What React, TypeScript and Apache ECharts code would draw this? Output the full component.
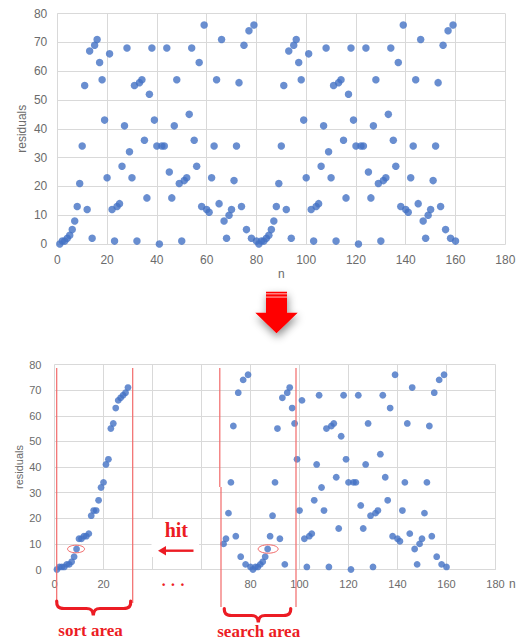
import React, { useEffect, useRef } from 'react';
import * as echarts from 'echarts';

// Residuals (n = 1 .. 160)
const topResiduals = [
  0, 1, 1, 2, 3, 5, 8, 13, 21, 34,
  55, 12, 67, 2, 69, 71, 63, 57, 43, 23,
  66, 12, 1, 13, 14, 27, 41, 68, 32, 23,
  55, 1, 56, 57, 36, 16, 52, 68, 43, 34,
  0, 34, 34, 68, 25, 16, 41, 57, 21, 1,
  22, 23, 45, 68, 36, 27, 63, 13, 76, 12,
  11, 23, 34, 57, 14, 71, 8, 2, 10, 12,
  22, 34, 56, 13, 69, 5, 74, 2, 76, 1,
  0, 1, 1, 2, 3, 5, 8, 13, 21, 34,
  55, 12, 67, 2, 69, 71, 63, 57, 43, 23,
  66, 12, 1, 13, 14, 27, 41, 68, 32, 23,
  55, 1, 56, 57, 36, 16, 52, 68, 43, 34,
  0, 34, 34, 68, 25, 16, 41, 57, 21, 1,
  22, 23, 45, 68, 36, 27, 63, 13, 76, 12,
  11, 23, 34, 57, 14, 71, 8, 2, 10, 12,
  22, 34, 56, 13, 69, 5, 74, 2, 76, 1,
];

// Lower chart: sorted values in the sort area (n = 1 .. 30)
const sortAreaResiduals = [
  0, 1, 1, 1, 2, 2, 3, 5, 8, 12,
  12, 13, 13, 14, 21, 23, 23, 27, 32, 34,
  41, 43, 55, 57, 63, 66, 67, 68, 69, 71,
];

// Lower chart: remaining values from n = 69 to 160
const restStartN = 69;
const restResiduals = [
  10, 12, 22, 34, 56, 13, 69, 5, 74, 2, 76, 1,
  0, 1, 1, 2, 3, 5, 8, 13, 21, 34,
  55, 12, 67, 2, 69, 71, 63, 57, 43, 23,
  66, 12, 1, 13, 14, 27, 41, 68, 32, 23,
  55, 1, 56, 57, 36, 16, 52, 68, 43, 34,
  0, 34, 34, 68, 25, 16, 41, 57, 21, 1,
  22, 23, 45, 68, 36, 27, 63, 13, 76, 12,
  11, 23, 34, 57, 14, 71, 8, 2, 10, 12,
  22, 34, 56, 13, 69, 5, 74, 2, 76, 1,
];

const hiddenBottomTicks = [40, 60];
const sortHit = [9, 8];
const searchHit = [87, 8];

const axisName = 'residuals';
const xName = 'n';
const hitLabel = 'hit';
const sortLabel = 'sort area';
const searchLabel = 'search area';
const gapLabel = '· · ·';

export default function App() {
  const ref = useRef<HTMLDivElement>(null);

  useEffect(() => {
    document.body.style.margin = '0';
    const chart = echarts.init(ref.current as HTMLDivElement, null, { renderer: 'svg' });
    const gridGrey = '#d9d9d9';
    const labelGrey = '#6b6b6b';
    const font = 'Liberation Sans';
    const blue = '#4472C4';
    const red = '#ec1c24';
    const lineRed = '#f26a6a';

    const makeX = (gridIndex: number, fontSize: number, extra: any) => ({
      gridIndex,
      type: 'value',
      min: 0,
      max: 180,
      interval: 20,
      axisLine: { show: true, lineStyle: { color: gridGrey } },
      axisTick: { show: false },
      splitLine: { show: true, lineStyle: { color: gridGrey, width: 1 } },
      axisLabel: { color: labelGrey, fontSize, fontFamily: font, margin: 10 },
      ...extra,
    });
    const makeY = (gridIndex: number, fontSize: number, gap: number, margin: number) => ({
      gridIndex,
      type: 'value',
      min: 0,
      max: 80,
      interval: 10,
      axisLine: { show: false },
      axisTick: { show: false },
      splitLine: { show: true, lineStyle: { color: gridGrey, width: 1 } },
      axisLabel: { color: labelGrey, fontSize, fontFamily: font, margin },
      name: axisName,
      nameLocation: 'middle',
      nameGap: gap,
      nameRotate: 90,
      nameMoveOverlap: false,
      nameTextStyle: { color: labelGrey, fontSize, fontFamily: font },
    });

    const option: any = {
      animation: false,
      backgroundColor: '#ffffff',
      grid: [
        { left: 57.3, top: 13.5, width: 448, height: 230.5, outerBoundsMode: 'none' },
        { left: 54.5, top: 364.5, width: 441, height: 205, outerBoundsMode: 'none' },
      ],
      xAxis: [
        makeX(0, 12, {
          name: xName,
          nameLocation: 'middle',
          nameGap: 24,
          nameMoveOverlap: false,
          nameTextStyle: { color: labelGrey, fontSize: 12, fontFamily: font },
        }),
        makeX(1, 11, {
          axisLabel: {
            color: labelGrey,
            fontSize: 11,
            fontFamily: font,
            margin: 9,
            formatter: (v: number) => (hiddenBottomTicks.includes(v) ? '' : String(v)),
          },
        }),
      ],
      yAxis: [makeY(0, 12, 29, 10), makeY(1, 11, 30, 13)],
      series: [
        {
          type: 'scatter',
          xAxisIndex: 0,
          yAxisIndex: 0,
          symbolSize: 7.5,
          itemStyle: { color: blue },
          data: topResiduals.map((v, i) => [i + 1, v]),
        },
        {
          type: 'scatter',
          xAxisIndex: 1,
          yAxisIndex: 1,
          symbolSize: 6.8,
          itemStyle: { color: blue },
          data: sortAreaResiduals.map((v, i) => [i + 1, v]),
        },
        {
          type: 'scatter',
          xAxisIndex: 1,
          yAxisIndex: 1,
          symbolSize: 6.8,
          itemStyle: { color: blue },
          data: restResiduals.map((v, i) => [restStartN + i, v]),
        },
      ],
    };
    chart.setOption(option);

    const pSort = chart.convertToPixel({ gridIndex: 1 }, sortHit) as number[];
    const pSearch = chart.convertToPixel({ gridIndex: 1 }, searchHit) as number[];

    const braceSort =
      'M 56.7 601 C 56.5 606 58 608.5 64 608.5 L 86.5 608.5 C 91.5 608.5 93 611 93.3 615.5 C 93.6 611 95 608.5 100 608.5 L 123.5 608.5 C 129.5 608.5 131 606 130.7 601';
    const braceSearch =
      'M 224.3 608.5 C 224.1 613 225.6 615.5 231.5 615.5 L 251.5 615.5 C 256.5 615.5 258 618 258.3 622.5 C 258.6 618 260 615.5 265 615.5 L 283.5 615.5 C 289.4 615.5 290.9 613 290.7 608.5';
    echarts.graphic.registerShape('braceSort', echarts.graphic.extendPath(braceSort, {}));
    echarts.graphic.registerShape('braceSearch', echarts.graphic.extendPath(braceSearch, {}));

    const txt = (x: number, y: number, text: string, size: number, extra: any = {}) => ({
      type: 'text',
      x,
      y,
      z: 60,
      style: {
        text,
        fill: red,
        fontSize: size,
        fontWeight: 'bold',
        fontFamily: 'Liberation Serif',
        textAlign: 'center',
        textVerticalAlign: 'middle',
        align: 'center',
        verticalAlign: 'middle',
        ...extra,
      },
    });
    const vline = (x: number, y1: number, y2: number) => ({
      type: 'line',
      z: 55,
      shape: { x1: x, y1, x2: x, y2 },
      style: { stroke: lineRed, lineWidth: 1.2 },
    });

    chart.setOption({
      graphic: {
        elements: [
          // white box behind "hit"
          { type: 'rect', z: 50, shape: { x: 151.5, y: 519, width: 47.5, height: 38 }, style: { fill: '#ffffff' } },
          txt(176.3, 530, hitLabel, 20),
          {
            type: 'line',
            z: 60,
            shape: { x1: 193.5, y1: 550.7, x2: 163, y2: 550.7 },
            style: { stroke: red, lineWidth: 2.4 },
          },
          {
            type: 'polygon',
            z: 60,
            shape: { points: [[158, 550.7], [166, 546], [166, 555.4]] },
            style: { fill: red },
          },
          txt(173, 584, gapLabel, 16),
          // area boundaries
          vline(56.7, 368, 602),
          vline(132.7, 368, 603),
          vline(219.8, 368, 487),
          vline(221, 487, 607),
          vline(296, 368, 607),
          { type: 'braceSort', z: 60, x: 0, y: 0, style: { stroke: red, lineWidth: 3.2, fill: 'none', lineCap: 'round' } },
          { type: 'braceSearch', z: 60, x: 0, y: 0, style: { stroke: red, lineWidth: 3.2, fill: 'none', lineCap: 'round' } },
          txt(90.5, 630.5, sortLabel, 17),
          txt(258.7, 631.5, searchLabel, 17),
          // ellipses around hit points
          {
            type: 'ellipse',
            z: 60,
            shape: { cx: pSort[0] - 0.5, cy: pSort[1], rx: 8.5, ry: 3.8 },
            style: { stroke: lineRed, lineWidth: 1, fill: 'none' },
          },
          {
            type: 'ellipse',
            z: 60,
            shape: { cx: pSearch[0] + 0.5, cy: pSearch[1], rx: 10, ry: 4.2 },
            style: { stroke: lineRed, lineWidth: 1, fill: 'none' },
          },
          // bottom "n"
          {
            type: 'text',
            x: 509,
            y: 584,
            z: 60,
            style: {
              text: xName,
              fill: labelGrey,
              fontSize: 12,
              fontFamily: font,
              textAlign: 'left',
              textVerticalAlign: 'middle',
              align: 'left',
              verticalAlign: 'middle',
            },
          },
          // big red down arrow
          {
            type: 'polygon',
            z: 60,
            shape: {
              points: [
                [266, 291.7],
                [287, 291.7],
                [287, 312.7],
                [297.7, 312.7],
                [276.5, 333.3],
                [255.3, 312.7],
                [266, 312.7],
              ],
            },
            style: {
              fill: '#ff0000',
              shadowBlur: 8,
              shadowColor: 'rgba(0,0,0,0.45)',
              shadowOffsetX: 1,
              shadowOffsetY: 4,
            },
          },
          { type: 'rect', z: 61, shape: { x: 266, y: 293.4, width: 21, height: 0.9 }, style: { fill: '#ffd0d0' } },
          { type: 'rect', z: 61, shape: { x: 266, y: 296.6, width: 21, height: 0.9 }, style: { fill: '#ffd0d0' } },
        ],
      },
    });

    return () => chart.dispose();
  }, []);

  return <div ref={ref} style={{ width: 519, height: 641 }} />;
}
